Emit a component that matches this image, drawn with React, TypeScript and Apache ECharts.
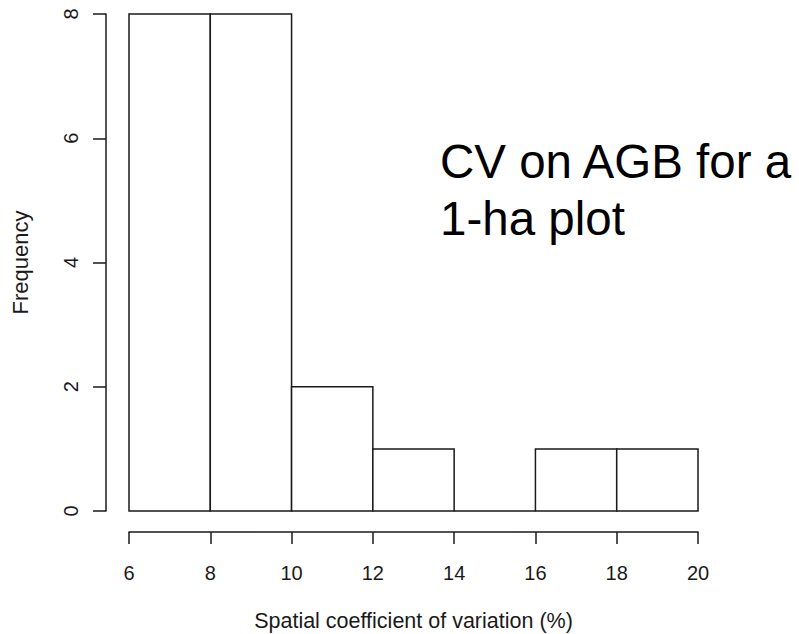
import React, { useEffect, useRef } from "react";
import * as echarts from "echarts";

const binEdges = [6, 8, 10, 12, 14, 16, 18, 20];
const counts = [8, 8, 2, 1, 0, 1, 1];
const xTitle = "Spatial coefficient of variation (%)";
const yTitle = "Frequency";
const annotation = "CV on AGB for a\n1-ha plot";

const FONT = "'Liberation Sans', Arial, sans-serif";
const INK = "#1a1a1a";

export default function App() {
  const ref = useRef<HTMLDivElement>(null);
  useEffect(() => {
    if (!ref.current) return;
    const chart = echarts.init(ref.current, null, { renderer: "svg" });
    const data = counts.map((c, i) => [binEdges[i], binEdges[i + 1], c]);
    chart.setOption({
      animation: false,
      backgroundColor: "#ffffff",
      grid: { left: 129, right: 101, top: 14, bottom: 123, outerBoundsMode: "none", containLabel: false },
      xAxis: {
        type: "value",
        min: 6,
        max: 20,
        interval: 2,
        offset: 21,
        name: xTitle,
        nameLocation: "middle",
        nameGap: 81,
        nameTextStyle: { fontFamily: FONT, fontSize: 21.5, lineHeight: 16, color: INK },
        axisLine: { show: true, onZero: false, lineStyle: { color: INK, width: 1.5 } },
        axisTick: { show: true, length: 12, lineStyle: { color: INK, width: 1.5 } },
        axisLabel: { margin: 31, fontFamily: FONT, fontSize: 20, color: INK },
        splitLine: { show: false },
      },
      yAxis: {
        type: "value",
        min: 0,
        max: 8,
        interval: 2,
        offset: 23,
        name: yTitle,
        nameLocation: "middle",
        nameRotate: 90,
        nameGap: 75,
        nameTextStyle: { fontFamily: FONT, fontSize: 22, color: INK },
        axisLine: { show: true, onZero: false, lineStyle: { color: INK, width: 1.5 } },
        axisTick: { show: true, length: 13, lineStyle: { color: INK, width: 1.5 } },
        axisLabel: { margin: 25, rotate: 90, fontFamily: FONT, fontSize: 20, color: INK },
        splitLine: { show: false },
      },
      series: [
        {
          type: "custom",
          data,
          renderItem: (params: any, api: any) => {
            const x0 = api.value(0);
            const x1 = api.value(1);
            const c = api.value(2);
            const p00 = api.coord([x0, 0]);
            const p0c = api.coord([x0, c]);
            const p1c = api.coord([x1, c]);
            const p10 = api.coord([x1, 0]);
            return {
              type: "polygon",
              shape: { points: [p00, p0c, p1c, p10] },
              style: { fill: "#ffffff", stroke: INK, lineWidth: 1.5 },
            };
          },
        },
      ],
      graphic: [
        {
          type: "text",
          left: 440,
          top: 133,
          style: {
            text: annotation,
            fontFamily: FONT,
            fontSize: 47.5,
            lineHeight: 57,
            fill: "#000000",
          },
        },
      ],
    });
    return () => chart.dispose();
  }, []);
  return (
    <div
      ref={ref}
      style={{ position: "absolute", left: 0, top: 0, width: 799, height: 634 }}
    />
  );
}
